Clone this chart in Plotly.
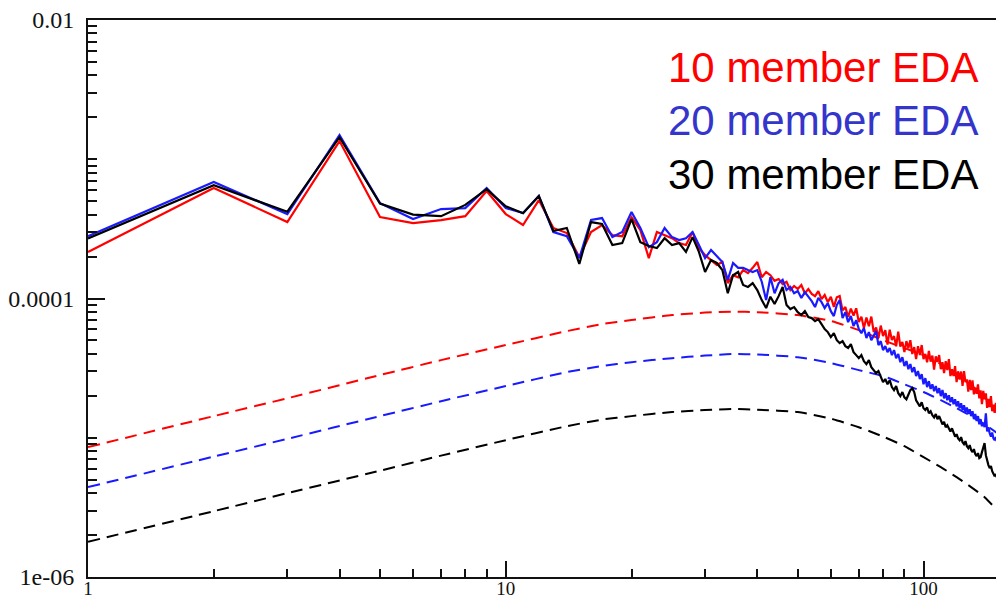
import plotly.graph_objects as go

# wavenumber
n = list(range(1, 151))

# solid lines: spectra for each ensemble size
eda10 = [2.16e-4, 6.21e-4, 3.54e-4, 1.35e-3, 3.84e-4, 3.48e-4, 3.66e-4, 3.90e-4, 5.91e-4, 4.04e-4,
         3.37e-4, 5.09e-4, 3.21e-4, 2.95e-4, 1.98e-4, 3.00e-4, 3.37e-4, 2.85e-4, 2.80e-4, 3.84e-4,
         3.10e-4, 1.95e-4, 3.00e-4, 2.85e-4, 2.71e-4, 2.50e-4, 2.42e-4, 3.00e-4, 2.30e-4, 2.05e-4,
         1.89e-4, 1.74e-4, 1.83e-4, 1.29e-4, 1.47e-4, 1.42e-4, 1.60e-4, 1.52e-4, 1.66e-4, 1.83e-4,
         1.42e-4, 1.55e-4, 1.47e-4, 1.34e-4, 1.38e-4, 1.27e-4, 1.32e-4, 1.15e-4, 1.23e-4, 1.17e-4,
         1.25e-4, 1.09e-4, 1.17e-4, 1.08e-4, 1.04e-4, 1.13e-4, 9.90e-5, 1.06e-4, 9.42e-5, 1.03e-4,
         8.71e-5, 1.02e-4, 1.04e-4, 8.22e-5, 8.68e-5, 7.38e-5, 8.45e-5, 7.55e-5, 8.51e-5, 6.77e-5,
         7.41e-5, 6.13e-5, 7.29e-5, 6.33e-5, 7.41e-5, 5.74e-5, 6.18e-5, 5.20e-5, 6.39e-5, 5.37e-5,
         5.92e-5, 4.67e-5, 5.97e-5, 5.04e-5, 5.37e-5, 4.54e-5, 5.79e-5, 4.51e-5, 4.87e-5, 4.12e-5,
         4.94e-5, 4.41e-5, 5.02e-5, 3.99e-5, 4.48e-5, 3.67e-5, 4.55e-5, 3.92e-5, 4.63e-5, 3.67e-5,
         4.00e-5, 3.48e-5, 4.21e-5, 3.52e-5, 3.89e-5, 3.09e-5, 3.84e-5, 3.50e-5, 3.92e-5, 3.11e-5,
         3.49e-5, 2.91e-5, 3.55e-5, 3.06e-5, 3.67e-5, 2.77e-5, 3.11e-5, 2.77e-5, 3.27e-5, 2.51e-5,
         3.00e-5, 2.62e-5, 2.99e-5, 2.36e-5, 3.01e-5, 2.51e-5, 2.62e-5, 2.14e-5, 2.60e-5, 2.20e-5,
         2.58e-5, 2.05e-5, 2.29e-5, 2.07e-5, 2.42e-5, 1.92e-5, 2.19e-5, 1.74e-5, 2.17e-5, 1.89e-5,
         2.08e-5, 1.64e-5, 1.90e-5, 1.66e-5, 1.99e-5, 1.55e-5, 1.73e-5, 1.51e-5, 1.78e-5, 1.50e-5]

eda20 = [2.80e-4, 6.86e-4, 4.04e-4, 1.49e-3, 4.84e-4, 3.72e-4, 4.39e-4, 4.46e-4, 6.21e-4, 4.46e-4,
         4.11e-4, 5.44e-4, 3.00e-4, 2.80e-4, 1.95e-4, 3.66e-4, 3.78e-4, 2.76e-4, 3.00e-4, 4.18e-4,
         3.21e-4, 2.34e-4, 2.54e-4, 3.21e-4, 2.76e-4, 2.63e-4, 2.71e-4, 3.00e-4, 2.42e-4, 1.95e-4,
         2.23e-4, 2.02e-4, 1.83e-4, 1.36e-4, 1.80e-4, 1.66e-4, 1.66e-4, 1.60e-4, 1.55e-4, 1.60e-4,
         1.32e-4, 9.74e-5, 1.42e-4, 1.09e-4, 1.29e-4, 1.36e-4, 1.15e-4, 1.21e-4, 1.09e-4, 1.13e-4,
         1.01e-4, 1.11e-4, 1.03e-4, 9.58e-5, 8.68e-5, 1.01e-4, 9.42e-5, 8.54e-5, 9.27e-5, 8.11e-5,
         7.48e-5, 8.97e-5, 9.74e-5, 7.23e-5, 7.98e-5, 6.77e-5, 7.48e-5, 6.33e-5, 7.00e-5, 6.03e-5,
         5.64e-5, 6.13e-5, 5.20e-5, 5.74e-5, 5.02e-5, 5.37e-5, 5.83e-5, 4.63e-5, 4.94e-5, 4.26e-5,
         4.55e-5, 4.12e-5, 4.41e-5, 3.92e-5, 4.26e-5, 3.73e-5, 3.99e-5, 3.49e-5, 3.79e-5, 3.27e-5,
         3.55e-5, 3.11e-5, 3.38e-5, 2.96e-5, 3.21e-5, 2.77e-5, 3.01e-5, 2.64e-5, 2.86e-5, 2.42e-5,
         2.68e-5, 2.31e-5, 2.55e-5, 2.24e-5, 2.42e-5, 2.16e-5, 2.35e-5, 2.09e-5, 2.27e-5, 1.99e-5,
         2.20e-5, 1.92e-5, 2.09e-5, 1.86e-5, 2.02e-5, 1.80e-5, 1.95e-5, 1.74e-5, 1.89e-5, 1.68e-5,
         1.83e-5, 1.63e-5, 1.77e-5, 1.58e-5, 1.71e-5, 1.53e-5, 1.65e-5, 1.48e-5, 1.60e-5, 1.43e-5,
         1.55e-5, 1.36e-5, 1.48e-5, 1.32e-5, 1.43e-5, 1.25e-5, 1.36e-5, 1.21e-5, 1.28e-5, 1.19e-5,
         1.50e-5, 1.11e-5, 1.19e-5, 1.08e-5, 1.02e-5, 1.09e-5, 9.90e-6, 9.61e-6, 1.01e-5, 9.30e-6]

eda30 = [2.70e-4, 6.50e-4, 4.20e-4, 1.44e-3, 4.80e-4, 4.00e-4, 3.90e-4, 4.70e-4, 6.10e-4, 4.60e-4,
         4.10e-4, 5.44e-4, 3.05e-4, 3.21e-4, 1.77e-4, 3.54e-4, 3.43e-4, 2.42e-4, 2.50e-4, 3.72e-4,
         2.54e-4, 2.38e-4, 2.30e-4, 2.71e-4, 2.42e-4, 2.50e-4, 2.16e-4, 2.76e-4, 2.16e-4, 1.55e-4,
         1.89e-4, 1.80e-4, 1.60e-4, 1.09e-4, 1.47e-4, 1.55e-4, 1.25e-4, 1.21e-4, 1.29e-4, 1.15e-4,
         9.74e-5, 8.54e-5, 1.03e-4, 9.12e-5, 1.04e-4, 1.21e-4, 8.97e-5, 8.40e-5, 8.68e-5, 7.98e-5,
         7.60e-5, 8.11e-5, 7.35e-5, 7.23e-5, 6.89e-5, 7.11e-5, 6.55e-5, 6.03e-5, 5.74e-5, 5.28e-5,
         5.64e-5, 5.02e-5, 4.78e-5, 4.94e-5, 4.55e-5, 4.41e-5, 4.70e-5, 4.12e-5, 3.92e-5, 3.73e-5,
         3.92e-5, 3.55e-5, 3.38e-5, 3.61e-5, 3.21e-5, 3.06e-5, 2.91e-5, 3.01e-5, 2.73e-5, 2.51e-5,
         2.64e-5, 2.42e-5, 2.59e-5, 2.31e-5, 2.20e-5, 2.35e-5, 2.09e-5, 1.99e-5, 2.13e-5, 1.95e-5,
         1.89e-5, 2.06e-5, 2.20e-5, 2.27e-5, 2.13e-5, 1.86e-5, 1.77e-5, 1.68e-5, 1.80e-5, 1.63e-5,
         1.58e-5, 1.65e-5, 1.50e-5, 1.55e-5, 1.45e-5, 1.40e-5, 1.48e-5, 1.36e-5, 1.43e-5, 1.32e-5,
         1.25e-5, 1.30e-5, 1.19e-5, 1.23e-5, 1.15e-5, 1.11e-5, 1.17e-5, 1.08e-5, 1.02e-5, 1.06e-5,
         9.90e-6, 9.61e-6, 1.01e-5, 9.30e-6, 9.00e-6, 9.45e-6, 8.70e-6, 8.42e-6, 8.85e-6, 8.15e-6,
         7.88e-6, 8.28e-6, 7.63e-6, 7.38e-6, 7.76e-6, 7.14e-6, 7.26e-6, 7.88e-6, 8.70e-6, 9.15e-6,
         7.50e-6, 6.68e-6, 6.36e-6, 6.05e-6, 6.26e-6, 5.75e-6, 5.57e-6, 5.30e-6, 5.48e-6, 5.13e-6]

# dashed lines: smooth curves
n_dash = [1, 2, 3, 5, 7, 10, 14, 17, 20, 25, 30, 35, 40, 50, 60, 70, 80, 90, 100, 110, 120, 130, 140, 150]
dash10 = [8.56e-6, 1.43e-5, 1.92e-5, 2.82e-5, 3.61e-5, 4.63e-5, 5.83e-5, 6.55e-5, 7.00e-5, 7.60e-5,
          7.92e-5, 8.05e-5, 7.98e-5, 7.60e-5, 6.89e-5, 5.93e-5, 5.02e-5, 4.41e-5, 3.92e-5, 3.38e-5,
          2.86e-5, 2.39e-5, 1.95e-5, 1.58e-5]
dash20 = [4.42e-6, 7.32e-6, 9.82e-6, 1.43e-5, 1.83e-5, 2.35e-5, 2.96e-5, 3.27e-5, 3.49e-5, 3.73e-5,
          3.89e-5, 3.99e-5, 3.96e-5, 3.79e-5, 3.44e-5, 3.06e-5, 2.77e-5, 2.42e-5, 2.13e-5, 1.86e-5,
          1.63e-5, 1.43e-5, 1.25e-5, 1.08e-5]
dash30 = [1.79e-6, 2.97e-6, 4.00e-6, 5.80e-6, 7.44e-6, 9.61e-6, 1.21e-5, 1.35e-5, 1.43e-5, 1.53e-5,
          1.58e-5, 1.61e-5, 1.59e-5, 1.53e-5, 1.37e-5, 1.19e-5, 1.02e-5, 8.70e-6, 7.26e-6, 6.15e-6,
          5.21e-6, 4.42e-6, 3.74e-6, 3.02e-6]

labels = ["10 member EDA", "20 member EDA", "30 member EDA"]
line_colors = ["#ff0000", "#1a1aff", "#000000"]
text_colors = ["#ff0000", "#3535cc", "#000000"]

x_major = [1, 10, 100]
x_major_text = ["1", "10", "100"]
y_major = [1e-6, 1e-4, 1e-2]
y_major_text = ["1e-06", "0.0001", "0.01"]
x_minor = [m * 10 ** k for k in range(0, 3) for m in range(2, 10)]
y_minor = [m * 10 ** k for k in range(-6, -2) for m in range(1, 10) if not (m == 1 and k % 2 == 0)]

fig = go.Figure()
for d, c in zip([dash10, dash20, dash30], line_colors):
    fig.add_trace(go.Scatter(x=n_dash, y=d, mode="lines",
                             line=dict(color=c, width=2, dash="12px,7px", shape="spline", smoothing=0.6),
                             showlegend=False, hoverinfo="skip"))
for s, c in zip([eda10, eda20, eda30], line_colors):
    fig.add_trace(go.Scatter(x=n, y=s, mode="lines", line=dict(color=c, width=2.2),
                             showlegend=False, hoverinfo="skip"))

fig.update_xaxes(type="log", range=[0, 2.1735], showgrid=False, zeroline=False, automargin=False,
                 showline=True, linecolor="#111", linewidth=2, mirror=True,
                 tickmode="array", tickvals=x_major, ticktext=x_major_text,
                 ticks="inside", ticklen=16, tickwidth=1.5, tickcolor="#111",
                 tickfont=dict(family="Liberation Serif", size=19, color="#111"),
                 ticklabelstandoff=-7,
                 minor=dict(tickmode="array", tickvals=x_minor, ticks="inside", ticklen=8,
                            tickwidth=1.5, tickcolor="#111"))
fig.update_yaxes(type="log", range=[-6, -2], showgrid=False, zeroline=False, automargin=False,
                 showline=True, linecolor="#111", linewidth=2,
                 tickmode="array", tickvals=y_major, ticktext=y_major_text,
                 ticks="inside", ticklen=17, tickwidth=1.5, tickcolor="#111",
                 tickfont=dict(family="Liberation Serif", size=24, color="#111"),
                 ticklabelstandoff=7,
                 minor=dict(tickmode="array", tickvals=y_minor, ticks="inside", ticklen=9,
                            tickwidth=1.5, tickcolor="#111"))

ys = [0.914, 0.820, 0.723]
for lab, tc, yy in zip(labels, text_colors, ys):
    fig.add_annotation(x=0.982, y=yy, xref="paper", yref="paper", xanchor="right", yanchor="middle",
                       text=lab, showarrow=False,
                       font=dict(family="Liberation Sans", size=42, color=tc))

fig.update_layout(width=996, height=599, margin=dict(l=88, r=0, t=20, b=22),
                  plot_bgcolor="white", paper_bgcolor="white")
fig.write_html("out.html", config={"displayModeBar": False},
               post_script="document.body.style.margin='0';")
